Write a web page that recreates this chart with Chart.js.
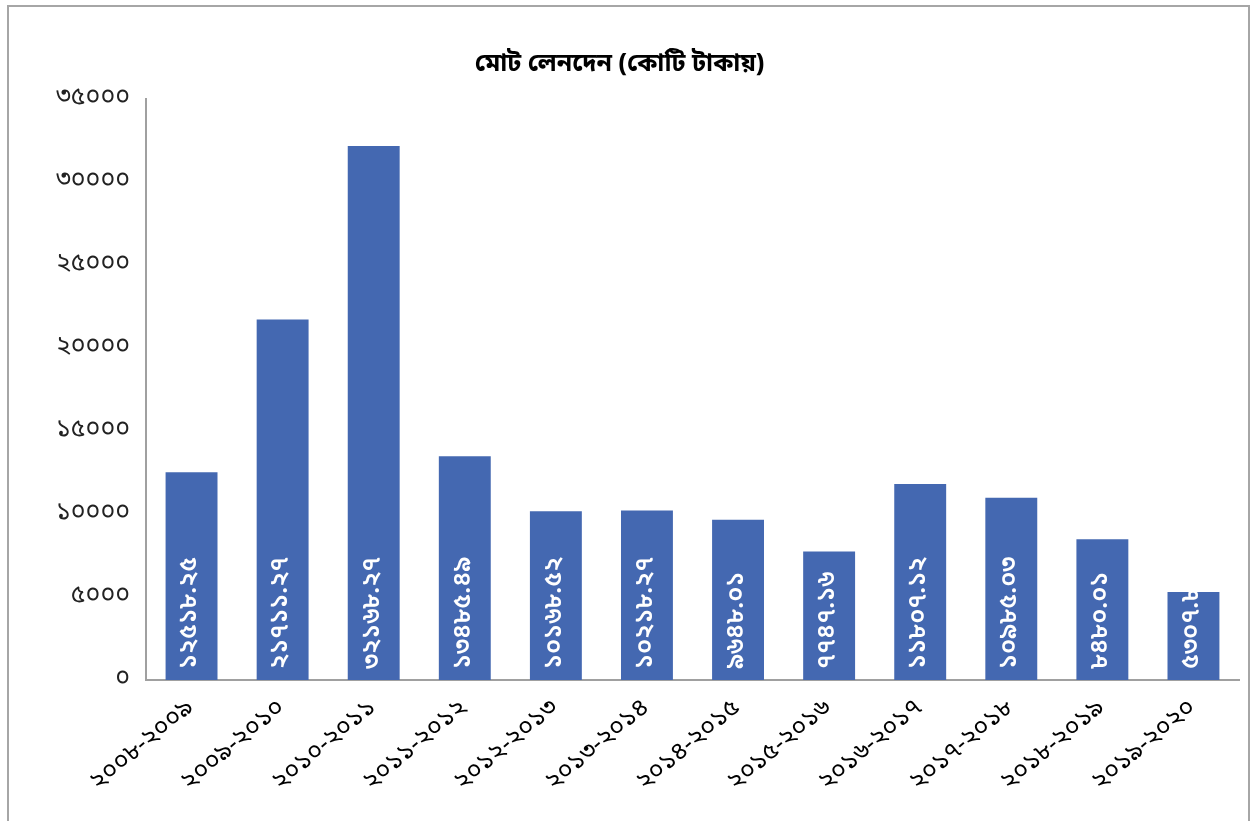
<!DOCTYPE html>
<html>
<head>
<meta charset="utf-8">
<script src="https://cdn.jsdelivr.net/npm/chart.js@4.4.1/dist/chart.umd.min.js"></script>
<style>
  html, body { margin: 0; padding: 0; background: #ffffff; }
  #wrap { position: relative; width: 1253px; height: 821px; overflow: hidden; }
  #frame { position: absolute; left: 7px; top: 5px; width: 1243px; height: 840px; border: 2px solid #a6a6a6; pointer-events: none; box-sizing: border-box; }
  canvas { position: absolute; left: 0; top: 0; }
</style>
</head>
<body>
<div id="wrap">
  <canvas id="c" width="1253" height="821"></canvas>
  <div id="frame"></div>
</div>
<script>
const chartTitle = "মোট লেনদেন (কোটি টাকায়)";
const categories = ["২০০৮-২০০৯", "২০০৯-২০১০", "২০১০-২০১১", "২০১১-২০১২", "২০১২-২০১৩", "২০১৩-২০১৪",
                    "২০১৪-২০১৫", "২০১৫-২০১৬", "২০১৬-২০১৭", "২০১৭-২০১৮", "২০১৮-২০১৯", "২০১৯-২০২০"];
const values = [12518.25, 21711.27, 32168.27, 13485.49, 10168.52, 10218.27,
                9648.01, 7747.16, 11807.12, 10985.03, 8480.01, 5307.8];
const yMin = 0, yMax = 35000, yStep = 5000;

const bnDigits = ["০","১","২","৩","৪","৫","৬","৭","৮","৯"];
function toBn(s) { return String(s).replace(/[0-9]/g, d => bnDigits[+d]); }

const FONT = "'Noto Sans Bengali', 'Noto Sans', 'Lohit Bengali', sans-serif";

const barLabels = {
  id: 'barLabels',
  afterDatasetsDraw(chart) {
    const ctx = chart.ctx;
    const meta = chart.getDatasetMeta(0);
    ctx.save();
    ctx.fillStyle = '#ffffff';
    ctx.font = "600 25px " + FONT;
    ctx.textAlign = 'left';
    ctx.textBaseline = 'middle';
    meta.data.forEach((bar, i) => {
      ctx.save();
      ctx.translate(bar.x, bar.base - 11);
      ctx.rotate(-Math.PI / 2);
      ctx.fillText(toBn(values[i]), 0, 0);
      ctx.restore();
    });
    ctx.restore();
  }
};

new Chart(document.getElementById('c'), {
  type: 'bar',
  data: {
    labels: categories,
    datasets: [{
      data: values,
      backgroundColor: '#4468b1',
      borderWidth: 0,
      barPercentage: 0.57,
      categoryPercentage: 1.0
    }]
  },
  options: {
    responsive: false,
    animation: false,
    devicePixelRatio: 1,
    layout: { padding: { left: 0, right: 14, top: 0, bottom: 0 } },
    plugins: {
      legend: { display: false },
      tooltip: { enabled: false },
      title: {
        display: true,
        text: chartTitle,
        color: '#000000',
        font: { family: FONT, size: 25, weight: 'bold', lineHeight: 1.2 },
        padding: { top: 51, bottom: 18 }
      }
    },
    scales: {
      x: {
        grid: { display: false, drawTicks: false },
        border: { display: true, color: '#a0a0a0', width: 2 },
        ticks: {
          color: '#000000',
          font: { family: FONT, size: 25 },
          maxRotation: 40, minRotation: 40,
          padding: 14,
          autoSkip: false
        },
        afterFit(scale) { scale.height = 141; }
      },
      y: {
        min: yMin, max: yMax,
        grid: { display: false, drawTicks: false },
        border: { display: true, color: '#a0a0a0', width: 2 },
        ticks: {
          stepSize: yStep,
          color: '#222222',
          font: { family: FONT, size: 25 },
          padding: 16,
          callback: v => toBn(v)
        },
        afterFit(scale) { scale.width = 146; }
      }
    }
  },
  plugins: [barLabels]
});
</script>
</body>
</html>
